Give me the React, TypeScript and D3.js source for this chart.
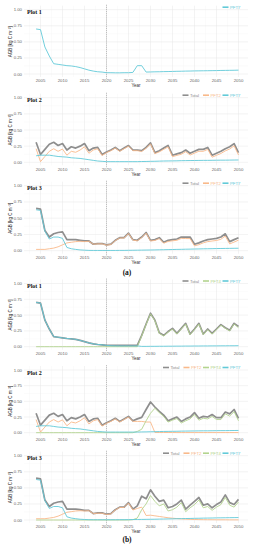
import React from 'react';
import * as d3 from 'd3';

// years 2004..2050
const years = d3.range(2004, 2051);
const xTicks = [2005, 2010, 2015, 2020, 2025, 2030, 2035, 2040, 2045, 2050];
const yTicks = [0, 0.25, 0.5, 0.75, 1];

// (a) Plot 1
const a1Pft7 = [0.70, 0.69, 0.42, 0.28, 0.16, 0.15, 0.14, 0.13, 0.125, 0.115, 0.10, 0.08, 0.06, 0.045, 0.035, 0.03, 0.02, 0.02, 0.018, 0.018, 0.02, 0.02, 0.025, 0.13, 0.13, 0.03, 0.032, 0.034, 0.035, 0.037, 0.038, 0.04, 0.042, 0.043, 0.045, 0.046, 0.048, 0.049, 0.05, 0.051, 0.052, 0.053, 0.055, 0.056, 0.057, 0.058, 0.06];

// (a) Plot 2
const a2Total = [0.31, 0.12, 0.20, 0.28, 0.31, 0.26, 0.29, 0.19, 0.24, 0.22, 0.25, 0.29, 0.18, 0.22, 0.23, 0.12, 0.16, 0.19, 0.23, 0.18, 0.22, 0.26, 0.19, 0.19, 0.18, 0.23, 0.30, 0.15, 0.18, 0.22, 0.26, 0.11, 0.13, 0.15, 0.19, 0.14, 0.17, 0.20, 0.20, 0.23, 0.11, 0.14, 0.17, 0.21, 0.24, 0.29, 0.15];
const a2Pft2 = [0.21, 0.01, 0.09, 0.17, 0.21, 0.17, 0.205, 0.11, 0.17, 0.155, 0.19, 0.24, 0.14, 0.19, 0.21, 0.105, 0.15, 0.18, 0.22, 0.17, 0.21, 0.25, 0.18, 0.18, 0.168, 0.217, 0.285, 0.134, 0.162, 0.20, 0.239, 0.088, 0.107, 0.125, 0.164, 0.113, 0.142, 0.171, 0.17, 0.20, 0.079, 0.108, 0.137, 0.177, 0.206, 0.255, 0.114];
const a2Pft7 = [0.10, 0.11, 0.11, 0.11, 0.10, 0.09, 0.085, 0.08, 0.07, 0.065, 0.06, 0.05, 0.04, 0.03, 0.02, 0.015, 0.01, 0.01, 0.01, 0.01, 0.01, 0.01, 0.01, 0.01, 0.012, 0.013, 0.015, 0.016, 0.018, 0.02, 0.021, 0.022, 0.023, 0.025, 0.026, 0.027, 0.028, 0.029, 0.03, 0.03, 0.031, 0.032, 0.033, 0.033, 0.034, 0.035, 0.036];

// (a) Plot 3
const a3Total = [0.65, 0.64, 0.31, 0.21, 0.26, 0.28, 0.29, 0.17, 0.17, 0.17, 0.16, 0.15, 0.15, 0.10, 0.11, 0.11, 0.09, 0.10, 0.16, 0.20, 0.20, 0.27, 0.17, 0.16, 0.21, 0.28, 0.16, 0.17, 0.20, 0.13, 0.16, 0.17, 0.18, 0.21, 0.21, 0.21, 0.10, 0.12, 0.15, 0.17, 0.18, 0.19, 0.21, 0.26, 0.14, 0.17, 0.20];
const a3Pft2 = [0.02, 0.02, 0.02, 0.03, 0.04, 0.06, 0.09, 0.12, 0.13, 0.14, 0.145, 0.14, 0.145, 0.10, 0.105, 0.105, 0.085, 0.095, 0.155, 0.195, 0.195, 0.264, 0.163, 0.152, 0.201, 0.27, 0.149, 0.158, 0.186, 0.115, 0.143, 0.152, 0.16, 0.189, 0.187, 0.186, 0.074, 0.093, 0.121, 0.14, 0.149, 0.157, 0.176, 0.225, 0.104, 0.133, 0.162];
const a3Pft7 = [0.63, 0.62, 0.30, 0.18, 0.21, 0.21, 0.19, 0.05, 0.03, 0.02, 0.012, 0.008, 0.005, 0.004, 0.004, 0.004, 0.004, 0.004, 0.004, 0.005, 0.005, 0.006, 0.007, 0.008, 0.009, 0.01, 0.011, 0.012, 0.014, 0.015, 0.017, 0.018, 0.02, 0.021, 0.023, 0.024, 0.026, 0.027, 0.029, 0.03, 0.031, 0.033, 0.034, 0.035, 0.036, 0.037, 0.038];

// (b) Plot 1
const b1Total = [0.70, 0.69, 0.42, 0.28, 0.16, 0.15, 0.14, 0.13, 0.125, 0.115, 0.10, 0.08, 0.06, 0.045, 0.035, 0.03, 0.02, 0.02, 0.02, 0.02, 0.02, 0.02, 0.02, 0.02, 0.18, 0.36, 0.53, 0.42, 0.22, 0.18, 0.24, 0.29, 0.21, 0.29, 0.37, 0.20, 0.28, 0.37, 0.20, 0.28, 0.21, 0.28, 0.35, 0.30, 0.26, 0.37, 0.32];
const b1Pft4 = [0, 0, 0, 0, 0, 0, 0, 0, 0, 0, 0, 0, 0, 0, 0, 0, 0, 0, 0, 0, 0, 0, 0, 0.0, 0.17, 0.35, 0.52, 0.41, 0.21, 0.17, 0.23, 0.28, 0.20, 0.28, 0.36, 0.19, 0.27, 0.36, 0.19, 0.27, 0.20, 0.27, 0.34, 0.29, 0.25, 0.36, 0.30];
const b1Pft7 = [0.70, 0.69, 0.42, 0.28, 0.16, 0.15, 0.14, 0.13, 0.125, 0.115, 0.10, 0.08, 0.06, 0.045, 0.035, 0.03, 0.02, 0.015, 0.013, 0.012, 0.012, 0.012, 0.012, 0.012, 0.005, 0.005, 0.006, 0.006, 0.007, 0.007, 0.008, 0.008, 0.009, 0.009, 0.01, 0.01, 0.011, 0.011, 0.012, 0.012, 0.013, 0.013, 0.014, 0.014, 0.015, 0.015, 0.016];

// (b) Plot 2
const b2Total = [0.31, 0.12, 0.20, 0.28, 0.31, 0.26, 0.29, 0.19, 0.24, 0.22, 0.25, 0.29, 0.18, 0.22, 0.23, 0.12, 0.16, 0.19, 0.23, 0.18, 0.22, 0.26, 0.19, 0.22, 0.245, 0.37, 0.49, 0.41, 0.34, 0.28, 0.19, 0.22, 0.25, 0.18, 0.22, 0.25, 0.32, 0.23, 0.26, 0.25, 0.29, 0.24, 0.24, 0.33, 0.30, 0.37, 0.23];
const b2Pft2 = [0.21, 0.01, 0.09, 0.17, 0.21, 0.17, 0.205, 0.11, 0.17, 0.155, 0.19, 0.24, 0.14, 0.19, 0.21, 0.105, 0.15, 0.18, 0.22, 0.17, 0.21, 0.25, 0.18, 0.18, 0.18, 0.17, 0.17, 0.004, 0.003, 0.003, 0.003, 0.003, 0.002, 0.002, 0.002, 0.002, 0.002, 0.002, 0.002, 0.002, 0.002, 0.002, 0.002, 0.002, 0.002, 0.002, 0.002];
const b2Pft4 = [0, 0, 0, 0, 0, 0, 0, 0, 0, 0, 0, 0, 0, 0, 0, 0, 0, 0, 0, 0, 0, 0, 0, 0.02, 0.055, 0.19, 0.31, 0.39, 0.32, 0.26, 0.17, 0.20, 0.225, 0.155, 0.19, 0.22, 0.29, 0.20, 0.23, 0.22, 0.26, 0.21, 0.21, 0.30, 0.265, 0.335, 0.19];
const b2Pft7 = [0.10, 0.11, 0.11, 0.11, 0.10, 0.09, 0.085, 0.08, 0.07, 0.065, 0.06, 0.05, 0.04, 0.03, 0.02, 0.015, 0.01, 0.01, 0.01, 0.01, 0.01, 0.01, 0.01, 0.01, 0.012, 0.013, 0.015, 0.016, 0.018, 0.02, 0.021, 0.022, 0.023, 0.025, 0.026, 0.027, 0.028, 0.029, 0.03, 0.03, 0.031, 0.032, 0.033, 0.033, 0.034, 0.035, 0.036];

// (b) Plot 3
const b3Total = [0.65, 0.64, 0.31, 0.21, 0.26, 0.28, 0.29, 0.17, 0.17, 0.17, 0.16, 0.15, 0.15, 0.10, 0.11, 0.11, 0.09, 0.10, 0.16, 0.20, 0.20, 0.27, 0.17, 0.22, 0.37, 0.33, 0.47, 0.37, 0.29, 0.31, 0.19, 0.21, 0.25, 0.31, 0.17, 0.23, 0.29, 0.35, 0.23, 0.25, 0.19, 0.24, 0.28, 0.39, 0.27, 0.24, 0.32];
const b3Pft2 = [0.02, 0.02, 0.02, 0.03, 0.04, 0.06, 0.09, 0.12, 0.13, 0.14, 0.145, 0.14, 0.145, 0.10, 0.105, 0.105, 0.085, 0.095, 0.155, 0.195, 0.195, 0.264, 0.155, 0.18, 0.20, 0.07, 0.075, 0.065, 0.055, 0.045, 0.035, 0.028, 0.022, 0.017, 0.013, 0.01, 0.008, 0.006, 0.005, 0.004, 0.004, 0.003, 0.003, 0.003, 0.002, 0.002, 0.002];
const b3Pft4 = [0, 0, 0, 0, 0, 0, 0, 0, 0, 0, 0, 0, 0, 0, 0, 0, 0, 0, 0, 0, 0, 0, 0.005, 0.03, 0.16, 0.25, 0.38, 0.29, 0.22, 0.25, 0.14, 0.16, 0.20, 0.27, 0.13, 0.19, 0.24, 0.31, 0.19, 0.21, 0.15, 0.20, 0.24, 0.35, 0.23, 0.20, 0.28];
const b3Pft7 = [0.63, 0.62, 0.30, 0.18, 0.21, 0.21, 0.19, 0.05, 0.03, 0.02, 0.012, 0.008, 0.005, 0.004, 0.004, 0.004, 0.004, 0.004, 0.004, 0.005, 0.005, 0.006, 0.007, 0.008, 0.009, 0.01, 0.011, 0.012, 0.014, 0.015, 0.017, 0.018, 0.02, 0.021, 0.023, 0.024, 0.026, 0.027, 0.029, 0.03, 0.031, 0.033, 0.034, 0.035, 0.036, 0.037, 0.038];

const COLORS: Record<string, string> = {
  Total: '#8e8e8e',
  PFT2: '#f9b98a',
  PFT4: '#b3d48e',
  PFT7: '#62cad8',
};

interface Series { name: string; values: number[]; }
interface Panel { title: string; top: number; zero: number; series: Series[]; }

const panels: Panel[] = [
  { title: 'Plot 1', top: 9.7, zero: 74, series: [{ name: 'PFT7', values: a1Pft7 }] },
  { title: 'Plot 2', top: 97.7, zero: 162.3, series: [
    { name: 'Total', values: a2Total }, { name: 'PFT2', values: a2Pft2 }, { name: 'PFT7', values: a2Pft7 }] },
  { title: 'Plot 3', top: 185.7, zero: 250.7, series: [
    { name: 'Total', values: a3Total }, { name: 'PFT2', values: a3Pft2 }, { name: 'PFT7', values: a3Pft7 }] },
  { title: 'Plot 1', top: 283.5, zero: 346.7, series: [
    { name: 'Total', values: b1Total }, { name: 'PFT4', values: b1Pft4 }, { name: 'PFT7', values: b1Pft7 }] },
  { title: 'Plot 2', top: 370, zero: 432.7, series: [
    { name: 'Total', values: b2Total }, { name: 'PFT2', values: b2Pft2 }, { name: 'PFT4', values: b2Pft4 }, { name: 'PFT7', values: b2Pft7 }] },
  { title: 'Plot 3', top: 455.7, zero: 520, series: [
    { name: 'Total', values: b3Total }, { name: 'PFT2', values: b3Pft2 }, { name: 'PFT4', values: b3Pft4 }, { name: 'PFT7', values: b3Pft7 }] },
];

const W = 255;
const H = 550;
const LEFT = 24;
const RIGHT = 248;
const sans = 'Liberation Sans, Arial, sans-serif';
const serif = 'Liberation Serif, Times New Roman, serif';

const x = d3.scaleLinear().domain([2005, 2050]).range([40.5, 238.5]);

function PlotPanel({ p }: { p: Panel }) {
  const y = d3.scaleLinear().domain([0, 1]).range([p.zero, p.top]);
  const gTop = p.top - 4;
  const gBottom = p.zero + 3;
  const line = d3.line<number>()
    .x((_, i) => x(years[i]))
    .y(d => y(d));
  const minorX = d3.range(2002.5, 2051, 5);
  const minorY = [0.125, 0.375, 0.625, 0.875];

  // legend, laid out right to left
  const legendItems: { name: string; kx: number; tx: number }[] = [];
  let cursor = 240;
  [...p.series].reverse().forEach(s => {
    const tw = s.name === 'Total' ? 11 : 10;
    const tx = cursor - tw;
    const kx = tx - 7.5;
    legendItems.unshift({ name: s.name, kx, tx });
    cursor = kx - 2;
  });
  const ly = p.top - 2.5;

  return (
    <g>
      {minorY.map(v => (
        <line key={'my' + v} x1={LEFT} x2={RIGHT} y1={y(v)} y2={y(v)} stroke="#f3f3f3" strokeWidth={0.35} />
      ))}
      {minorX.map(v => (
        <line key={'mx' + v} x1={x(v)} x2={x(v)} y1={gTop} y2={gBottom} stroke="#f3f3f3" strokeWidth={0.35} />
      ))}
      {yTicks.map(v => (
        <line key={'gy' + v} x1={LEFT} x2={RIGHT} y1={y(v)} y2={y(v)} stroke="#e6e6e6" strokeWidth={0.5} />
      ))}
      {xTicks.map(v => (
        <line key={'gx' + v} x1={x(v)} x2={x(v)} y1={gTop} y2={gBottom} stroke="#e6e6e6" strokeWidth={0.5} />
      ))}
      <line x1={x(2020)} x2={x(2020)} y1={p.top - 5} y2={p.zero + 5} stroke="#9a9a9a" strokeWidth={0.6} strokeDasharray="1.2,0.9" />
      {p.series.map(s => (
        <path key={s.name} d={line(s.values) || ''} fill="none" stroke={COLORS[s.name]}
          strokeWidth={s.name === 'Total' ? 1.7 : 0.9} strokeLinejoin="round" />
      ))}
      {yTicks.map(v => (
        <text key={'ty' + v} x={22} y={y(v) + 1.5} fontSize={4.3} fill="#666" textAnchor="end" fontFamily={sans}>
          {v.toFixed(2)}
        </text>
      ))}
      {xTicks.map(v => (
        <text key={'tx' + v} x={x(v)} y={p.zero + 8.2} fontSize={4.3} fill="#666" textAnchor="middle" fontFamily={sans}>
          {v}
        </text>
      ))}
      <text x={136} y={p.zero + 13.3} fontSize={4.5} fill="#333" textAnchor="middle" fontFamily={sans}>Year</text>
      <text transform={`translate(12.3, ${y(0.5)}) rotate(-90)`} fontSize={4.5} fill="#222" textAnchor="middle" fontFamily={sans}>
        AGB [kg C m⁻²]
      </text>
      <text x={27} y={p.top + 4.7} fontSize={6} fontWeight="bold" fill="#111" fontFamily={serif}>{p.title}</text>
      {legendItems.map(it => (
        <g key={'lg' + it.name}>
          <line x1={it.kx} x2={it.kx + 6} y1={ly} y2={ly} stroke={COLORS[it.name]} strokeWidth={1.6} />
          <text x={it.tx} y={ly + 1.5} fontSize={4.3} fill={COLORS[it.name]} fontFamily={sans}>{it.name}</text>
        </g>
      ))}
    </g>
  );
}

export default function App() {
  return (
    <div style={{ position: 'absolute', left: 0, top: 0, width: W, height: H, background: '#fff' }}>
      <svg width={W} height={H} style={{ display: 'block' }}>
        <rect width={W} height={H} fill="#fff" />
        {panels.map((p, i) => <PlotPanel key={i} p={p} />)}
        <text x={127} y={275} fontSize={7.5} fontWeight="bold" textAnchor="middle" fill="#111" fontFamily={serif}>(a)</text>
        <text x={127} y={541.5} fontSize={7.5} fontWeight="bold" textAnchor="middle" fill="#111" fontFamily={serif}>(b)</text>
      </svg>
    </div>
  );
}
